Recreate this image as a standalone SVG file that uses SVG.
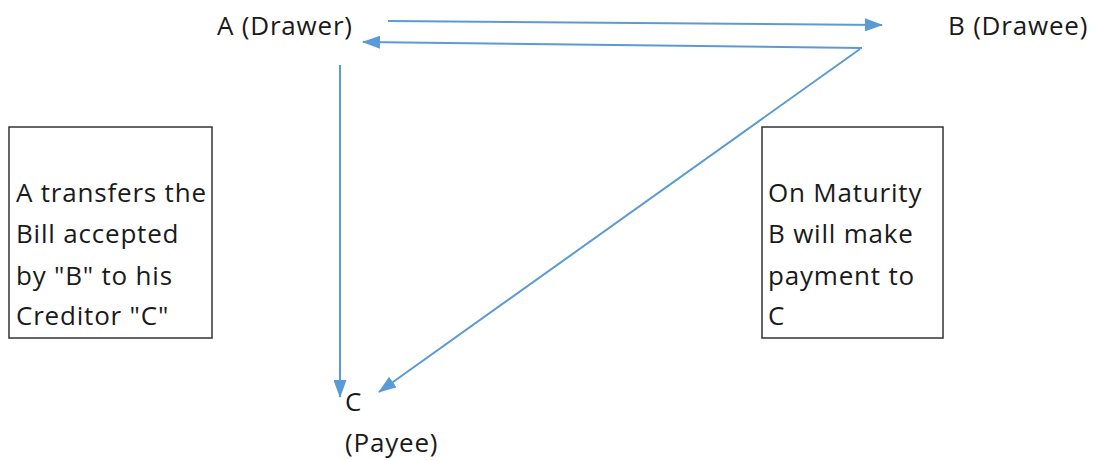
<svg xmlns="http://www.w3.org/2000/svg" width="1096" height="460" viewBox="0 0 1096 460">
  <style>
    text { font-family: "Open Sans", "Noto Sans", sans-serif; font-size: 26px; letter-spacing: 0.8px; fill: #1a1a1a; }
    .box { fill: #ffffff; stroke: #333333; stroke-width: 1.5; }
    .flow { stroke: #5b9bd5; stroke-width: 2; fill: none; marker-end: url(#arrow); }
  </style>
  <defs>
    <marker id="arrow" viewBox="0 0 18 13" refX="17" refY="6.5" markerWidth="18" markerHeight="13" markerUnits="userSpaceOnUse" orient="auto">
      <path d="M0,0 L18,6.5 L0,13 z" fill="#5b9bd5"/>
    </marker>
  </defs>
  <rect width="1096" height="460" fill="#ffffff"/>

  <!-- parties -->
  <g id="node-a"><text x="217" y="35">A (Drawer)</text></g>
  <g id="node-b"><text x="948" y="35">B (Drawee)</text></g>
  <g id="node-c">
    <text x="345" y="411">C</text>
    <text x="345" y="452">(Payee)</text>
  </g>

  <!-- explanatory notes -->
  <g id="note-transfer">
    <rect class="box" x="9" y="127" width="203" height="211"/>
    <text x="16" y="202">A transfers the</text>
    <text x="16" y="243">Bill accepted</text>
    <text x="16" y="285">by "B" to his</text>
    <text x="16" y="325">Creditor "C"</text>
  </g>
  <g id="note-maturity">
    <rect class="box" x="762" y="127" width="181" height="211"/>
    <text x="768" y="202">On Maturity</text>
    <text x="768" y="243">B will make</text>
    <text x="768" y="285">payment to</text>
    <text x="768" y="325">C</text>
  </g>

  <!-- connectors -->
  <g id="connectors">
    <line class="flow" x1="388" y1="21" x2="882" y2="25"/>
    <line class="flow" x1="862" y1="48" x2="363" y2="42"/>
    <line class="flow" x1="860" y1="49" x2="379" y2="392"/>
    <line class="flow" x1="340" y1="65" x2="340" y2="397"/>
  </g>
</svg>
